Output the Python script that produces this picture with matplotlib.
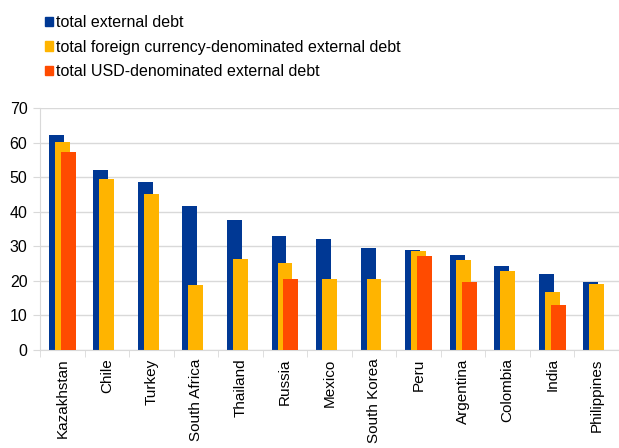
import numpy as np
import matplotlib
matplotlib.use("Agg")
import matplotlib.pyplot as plt
from matplotlib.patches import Patch

plt.rcParams['font.family'] = ['Liberation Sans', 'DejaVu Sans']

countries = ['Kazakhstan', 'Chile', 'Turkey', 'South Africa', 'Thailand', 'Russia',
             'Mexico', 'South Korea', 'Peru', 'Argentina', 'Colombia', 'India',
             'Philippines']
total_debt = [62.2, 52.1, 48.7, 41.6, 37.6, 33.0, 32.1, 29.4, 28.9, 27.4, 24.4, 22.1, 19.6]
fx_debt = [60.2, 49.6, 45.3, 18.8, 26.3, 25.2, 20.7, 20.5, 28.7, 26.2, 22.8, 16.7, 19.1]
usd_debt = [57.4, np.nan, np.nan, np.nan, np.nan, 20.5, np.nan, np.nan, 27.2, 19.8,
            np.nan, 13.1, np.nan]

series_labels = ['total external debt',
                 'total foreign currency-denominated external debt',
                 'total USD-denominated external debt']
colors = ['#003894', '#FFB400', '#FF4B00']

fig = plt.figure(figsize=(6.19, 4.48), dpi=100)
ax = fig.add_axes([40 / 619, 1 - 350 / 448, 1 - 40 / 619, (350 - 108.3) / 448])

x = np.arange(len(countries))
width = 0.335
step = 0.134
for i, (vals, col) in enumerate(zip([total_debt, fx_debt, usd_debt], colors)):
    ax.bar(x + (i - 1) * step, vals, width, color=col, zorder=2 + i)

ax.set_xlim(-0.5, len(countries) - 0.5)
ax.set_ylim(0, 70)
ax.set_yticks(range(0, 71, 10))
ax.grid(axis='y', color='#d9d9d9', linewidth=1, zorder=0)

ax.set_xticks(x)
ax.set_xticklabels(countries, rotation=90, fontsize=11)
ax.set_xticks(np.arange(-0.5, len(countries)), minor=True)
ax.tick_params(axis='x', which='major', length=0, pad=6)
ax.tick_params(axis='x', which='minor', length=5, color='#d9d9d9')
ax.tick_params(axis='y', length=5, color='#d9d9d9', labelsize=11.5, pad=4)

for side in ['top', 'right']:
    ax.spines[side].set_visible(False)
for side in ['left', 'bottom']:
    ax.spines[side].set_color('#d9d9d9')

handles = [Patch(color=c) for c in colors]
fig.legend(handles, series_labels, loc='upper left', bbox_to_anchor=(39 / 619, 1 - 9 / 448),
           frameon=False, fontsize=11.5, handlelength=0.5, handleheight=0.5,
           handletextpad=0.15, labelspacing=0.58, borderaxespad=0)

fig.savefig('out.png', dpi=100)
